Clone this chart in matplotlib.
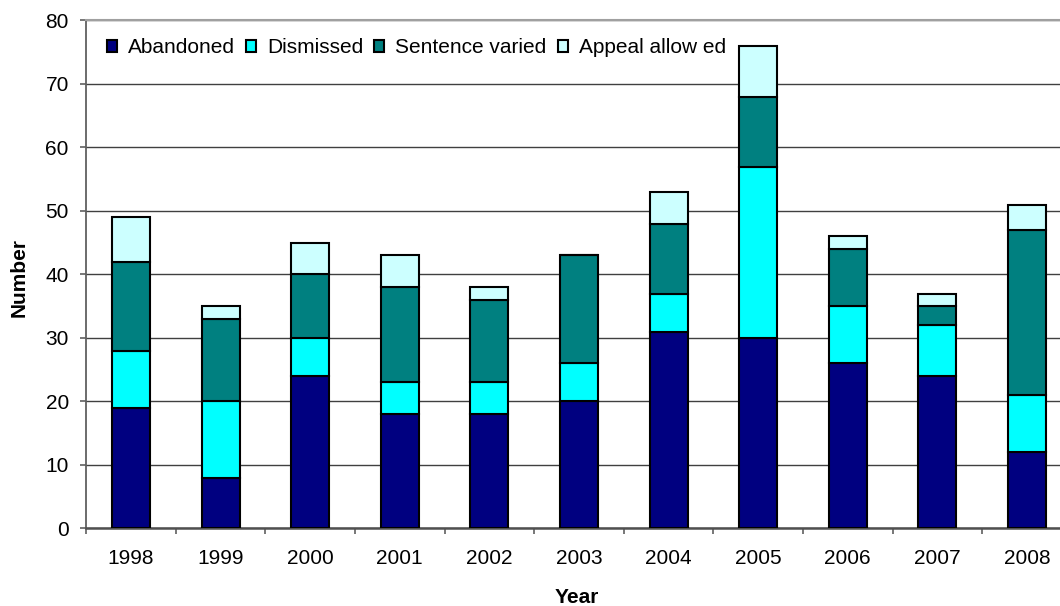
import numpy as np
import matplotlib.pyplot as plt

plt.rcParams['font.family'] = ['Liberation Sans', 'DejaVu Sans']

# Appeal outcomes per year
years = ['1998', '1999', '2000', '2001', '2002', '2003', '2004', '2005', '2006', '2007', '2008']
abandoned = [19, 8, 24, 18, 18, 20, 31, 30, 26, 24, 12]
dismissed = [9, 12, 6, 5, 5, 6, 6, 27, 9, 8, 9]
sentence_varied = [14, 13, 10, 15, 13, 17, 11, 11, 9, 3, 26]
appeal_allowed = [7, 2, 5, 5, 2, 0, 5, 8, 2, 2, 4]

series = [
    ('Abandoned', abandoned, '#000080'),
    ('Dismissed', dismissed, '#00ffff'),
    ('Sentence varied', sentence_varied, '#008080'),
    ('Appeal allow ed', appeal_allowed, '#ccffff'),
]

fig = plt.figure(figsize=(10.6, 6.06), dpi=100)
ax = fig.add_axes([0.0813, 0.1279, 0.9298, 0.8383])

x = np.arange(len(years))
bottom = np.zeros(len(years))
for name, vals, col in series:
    ax.bar(x, vals, width=0.424, bottom=bottom, color=col, edgecolor='black',
           linewidth=1.5, label=name, zorder=3)
    bottom += np.array(vals)

ax.set_ylim(0, 80)
ax.set_xlim(-0.5, len(years) - 0.5)
ax.set_yticks(range(0, 81, 10))
ax.yaxis.grid(True, color='#404040', linewidth=1, zorder=0)

ax.set_xticks(x)
ax.set_xticklabels(years, fontsize=15)
ax.set_xticks(np.arange(-0.5, len(years), 1), minor=True)
ax.tick_params(axis='x', which='major', length=0, pad=15)
ax.tick_params(axis='x', which='minor', length=4, width=1.2, color='#606060', direction='out')
ax.tick_params(axis='y', labelsize=15, length=4.5, width=1.2, color='#606060',
               direction='out', pad=8)

ax.spines['right'].set_visible(False)
ax.spines['top'].set_color('#a0a0a0')
ax.spines['top'].set_linewidth(1.5)
ax.spines['left'].set_color('#606060')
ax.spines['bottom'].set_color('#505050')
ax.spines['left'].set_linewidth(1.3)
ax.spines['bottom'].set_linewidth(1.8)

fig.text(0.0179, 0.542, 'Number', fontsize=15, fontweight='bold', rotation=90,
         ha='center', va='center')
fig.text(0.5443, 0.0297, 'Year', fontsize=15, fontweight='bold', ha='center', va='top')

ax.legend(loc='center left', bbox_to_anchor=(0.0211, 0.9459), ncol=4, frameon=False,
          fontsize=15, handlelength=0.48, handleheight=0.48, handletextpad=0.53,
          columnspacing=0.53, borderaxespad=0, borderpad=0)

fig.savefig('out.png', dpi=100)
